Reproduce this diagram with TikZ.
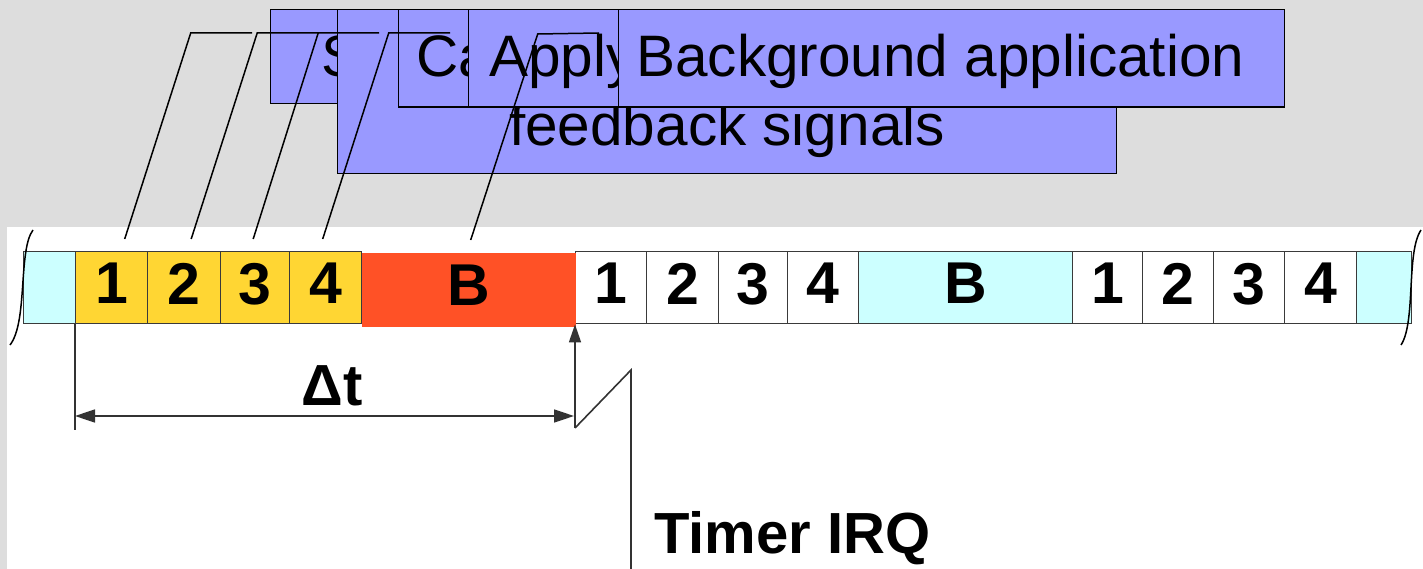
\documentclass[tikz,border=0pt]{standalone}
\usepackage{fontspec}
\setmainfont{Liberation Sans}
\usetikzlibrary{arrows.meta}
\definecolor{canvas}{HTML}{DDDDDD}
\definecolor{boxblue}{HTML}{9999FF}
\definecolor{slotyellow}{HTML}{FFD633}
\definecolor{slotred}{HTML}{FF5126}
\definecolor{slotcyan}{HTML}{CCFFFF}
\definecolor{slotline}{HTML}{3A3A3A}
\definecolor{dimline}{HTML}{333333}
\tikzset{
  slot/.style={draw=slotline, line width=1.4pt, minimum height=72pt, inner sep=0pt,
    anchor=north west, font=\fontsize{59}{59}\selectfont\bfseries, text depth=8pt},
  taskbox/.style={draw=black, line width=1.4pt, fill=boxblue, inner sep=0pt, anchor=north west},
  boxtext/.style={inner sep=0pt, font=\fontsize{58.5}{69}\selectfont},
  leader/.style={draw=black, line width=1.5pt},
  dim/.style={draw=dimline, line width=1.6pt},
  tip/.style={-{Triangle[length=18pt,width=12pt]}},
}
\begin{document}
\begin{tikzpicture}[x=1pt,y=-1pt]
\useasboundingbox (0,0) rectangle (1423,569);
% page background and white drawing area
\fill[canvas] (0,0) rectangle (1423,569);
\fill[white] (7,227) rectangle (1423,569);

% task boxes, stacked from back to front
\node[taskbox, minimum width=730pt, minimum height=94pt] (bS) at (270,9) {};
\node[boxtext, anchor=base west] (tS) at (321,77) {S};
\node[taskbox, minimum width=779pt, minimum height=164pt] (bF) at (337,9) {};
\node[boxtext, anchor=base] (tF) at (727,146) {feedback signals};
\node[taskbox, minimum width=600pt, minimum height=97.5pt] (bC) at (398,9) {};
\node[boxtext, anchor=base west] (tC) at (416,77) {Ca};
\node[taskbox, minimum width=600pt, minimum height=97.5pt] (bA) at (468,9) {};
\node[boxtext, anchor=base west] (tA) at (489,77) {Apply};
\node[taskbox, minimum width=666pt, minimum height=97.5pt] (bG) at (618,9) {};
\node[boxtext, anchor=base west] (tG) at (636,77) {Background application};

% time line of slots
\node[slot, fill=slotcyan, minimum width=52pt] (lc) at (23,251) {};
\node[slot, fill=slotyellow, minimum width=72pt] (s1) at (75,251) {1};
\node[slot, fill=slotyellow, minimum width=73pt] (s2) at (147,251) {2};
\node[slot, fill=slotyellow, minimum width=69pt] (s3) at (220,251) {3};
\node[slot, fill=slotyellow, minimum width=72pt] (s4) at (289,251) {4};
\node[slot, fill=white, minimum width=71pt] (w1) at (575,251) {1};
\node[slot, fill=white, minimum width=72pt] (w2) at (646,251) {2};
\node[slot, fill=white, minimum width=69pt] (w3) at (718,251) {3};
\node[slot, fill=white, minimum width=71pt] (w4) at (787,251) {4};
\node[slot, fill=slotcyan, minimum width=214pt] (bg) at (858,251) {B};
\node[slot, fill=white, minimum width=70pt] (w5) at (1072,251) {1};
\node[slot, fill=white, minimum width=71pt] (w6) at (1142,251) {2};
\node[slot, fill=white, minimum width=71pt] (w7) at (1213,251) {3};
\node[slot, fill=white, minimum width=72pt] (w8) at (1284,251) {4};
\node[slot, fill=slotcyan, minimum width=55pt] (rc) at (1356,251) {};
\node[slot, draw=none, fill=slotred, minimum width=214pt, minimum height=74pt] (sb) at (361,252) {B};

% cut marks at both ends of the time line
\draw[line width=1.5pt] (33,230) .. controls (18,250) and (28,322) .. (10,345);
\draw[line width=1.5pt] (1421,230) .. controls (1406,252) and (1416,322) .. (1401,345);

% leaders from the active slots up to their tasks
\coordinate (e1) at (252,33);
\coordinate (e2) at (319,33);
\coordinate (e3) at (379,33);
\coordinate (e4) at (450,33);
\coordinate (eB) at (599,33);
\draw[leader] ([xshift=13pt,yshift=12pt]s1.north) -- ++(66,-206) -- (e1);
\draw[leader] ([xshift=7pt,yshift=12pt]s2.north) -- ++(66,-206) -- (e2);
\draw[leader] ([xshift=-2pt,yshift=12pt]s3.north) -- ++(65,-206) -- (e3);
\draw[leader] ([xshift=-3pt,yshift=12pt]s4.north) -- ++(66,-206) -- (e4);
\draw[leader] ([xshift=2pt,yshift=12pt]sb.north) -- ++(67,-206) -- (eB);

% period dimension
\coordinate (dl) at (75,430);
\coordinate (dl2) at (75,416);
\coordinate (dr2) at (574,416);
\draw[dim] (s1.south west) -- (dl);
\draw[dim, {Triangle[length=20pt,width=13pt]}-{Triangle[length=20pt,width=13pt]}] (dl2) -- (dr2);
\node[inner sep=0pt, anchor=base, font=\fontsize{58}{58}\selectfont\bfseries] (dt) at (332,405) {Δt};

% timer interrupt
\coordinate (irq) at (575,428);
\coordinate (zz) at (631,370);
\coordinate (zb) at (631,569);
\draw[dim, tip] (irq) -- (w1.south west);
\draw[dim] (irq) -- (zz) -- (zb);
\node[inner sep=0pt, anchor=base west, font=\fontsize{58}{58}\selectfont\bfseries] (irqt) at (654,553) {Timer IRQ};
\end{tikzpicture}
\end{document}
